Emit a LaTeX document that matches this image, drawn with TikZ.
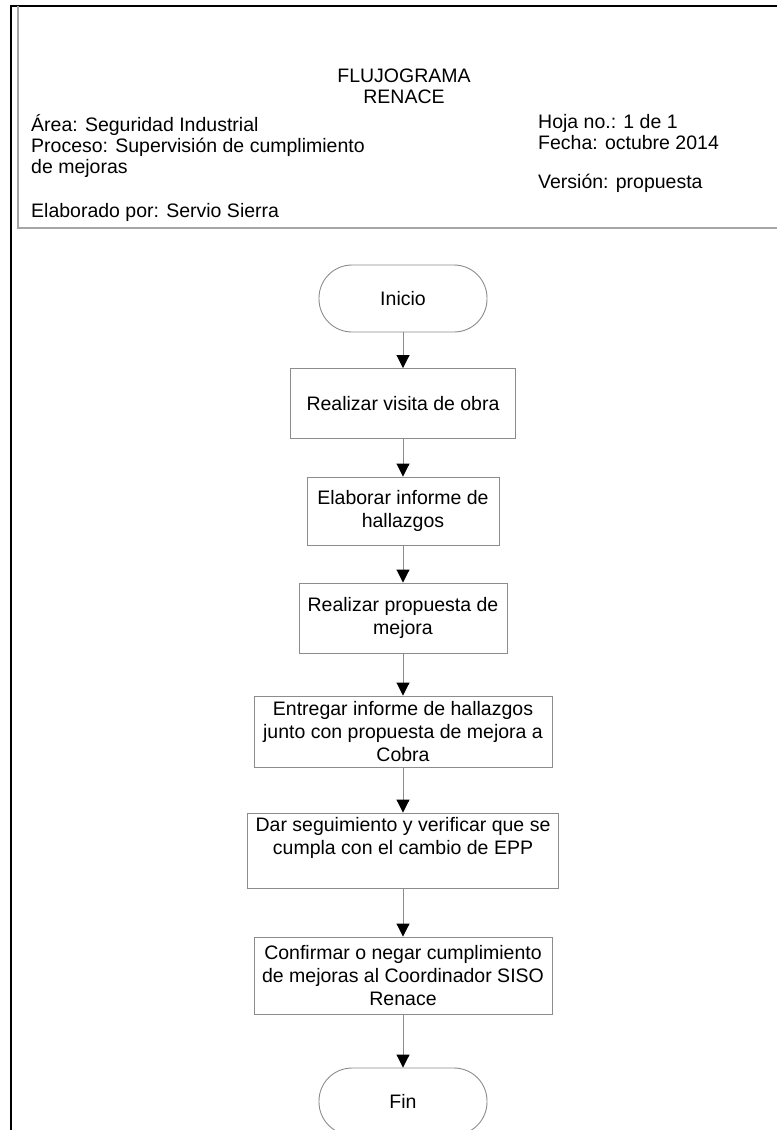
\documentclass[tikz,border=0pt]{standalone}
\usepackage{fontspec}
\setmainfont{Liberation Sans}
\usetikzlibrary{arrows.meta}
\begin{document}
\begin{tikzpicture}[x=1pt,y=-1pt,
  txt/.style={font=\fontsize{19.5}{22}\selectfont, inner sep=0pt},
  stepbox/.style={draw=black!45, line width=0.9pt, rectangle, align=center, font=\fontsize{19.5}{23}\selectfont, inner sep=2pt},
  term/.style={draw=black!45, line width=0.9pt, rectangle, rounded corners=33pt, align=center, font=\fontsize{19.5}{23}\selectfont},
  flow/.style={draw=black!45, line width=0.9pt, -{Triangle[width=13pt,length=13pt,color=black,fill=black]}}
]
\useasboundingbox (0,0) rectangle (777,1130);
% header frame
\draw[line width=2pt, black] (11,1130) -- (11,6) -- (777,6);
\draw[line width=1.5pt, black!35] (18,6) -- (18,228) -- (777,228);
% header texts
\node[txt, anchor=base] (t1) at (404,82) {FLUJOGRAMA};
\node[txt, anchor=base] (t2) at (404,103) {RENACE};
\node[txt, anchor=base west] (a1) at (31,131) {Área: Seguridad Industrial};
\node[txt, anchor=base west] (a2) at (31,152) {Proceso: Supervisión de cumplimiento};
\node[txt, anchor=base west] (a3) at (31,173) {de mejoras};
\node[txt, anchor=base west] (a4) at (31,217) {Elaborado por: Servio Sierra};
\node[txt, anchor=base west] (b1) at (538,128) {Hoja no.: 1 de 1};
\node[txt, anchor=base west] (b2) at (538,149) {Fecha: octubre 2014};
\node[txt, anchor=base west] (b3) at (538,188) {Versión: propuesta};
% flowchart
\node[term, minimum width=168pt, minimum height=67pt] (ini) at (403,298.5) {Inicio};
\node[stepbox, minimum width=225pt, minimum height=70pt] (s1) at (403,403.5) {Realizar visita de obra};
\node[stepbox, minimum width=192pt, minimum height=68pt] (s2) at (403,511) {Elaborar informe de\\hallazgos};
\node[stepbox, minimum width=208pt, minimum height=70pt] (s3) at (403,618) {Realizar propuesta de\\mejora};
\node[stepbox, minimum width=298pt, minimum height=71pt] (s4) at (403,731.5) {Entregar informe de hallazgos\\junto con propuesta de mejora a\\Cobra};
\node[stepbox, minimum width=311pt, minimum height=75pt] (s5) at (403,850.5) {Dar seguimiento y verificar que se\\cumpla con el cambio de EPP\\\strut};
\node[stepbox, minimum width=298pt, minimum height=77pt] (s6) at (403,975.5) {Confirmar o negar cumplimiento\\de mejoras al Coordinador SISO\\Renace};
\node[term, minimum width=168pt, minimum height=67pt] (fin) at (403,1101.5) {Fin};
\draw[flow] (ini) -- (s1);
\draw[flow] (s1) -- (s2);
\draw[flow] (s2) -- (s3);
\draw[flow] (s3) -- (s4);
\draw[flow] (s4) -- (s5);
\draw[flow] (s5) -- (s6);
\draw[flow] (s6) -- (fin);
\end{tikzpicture}
\end{document}
